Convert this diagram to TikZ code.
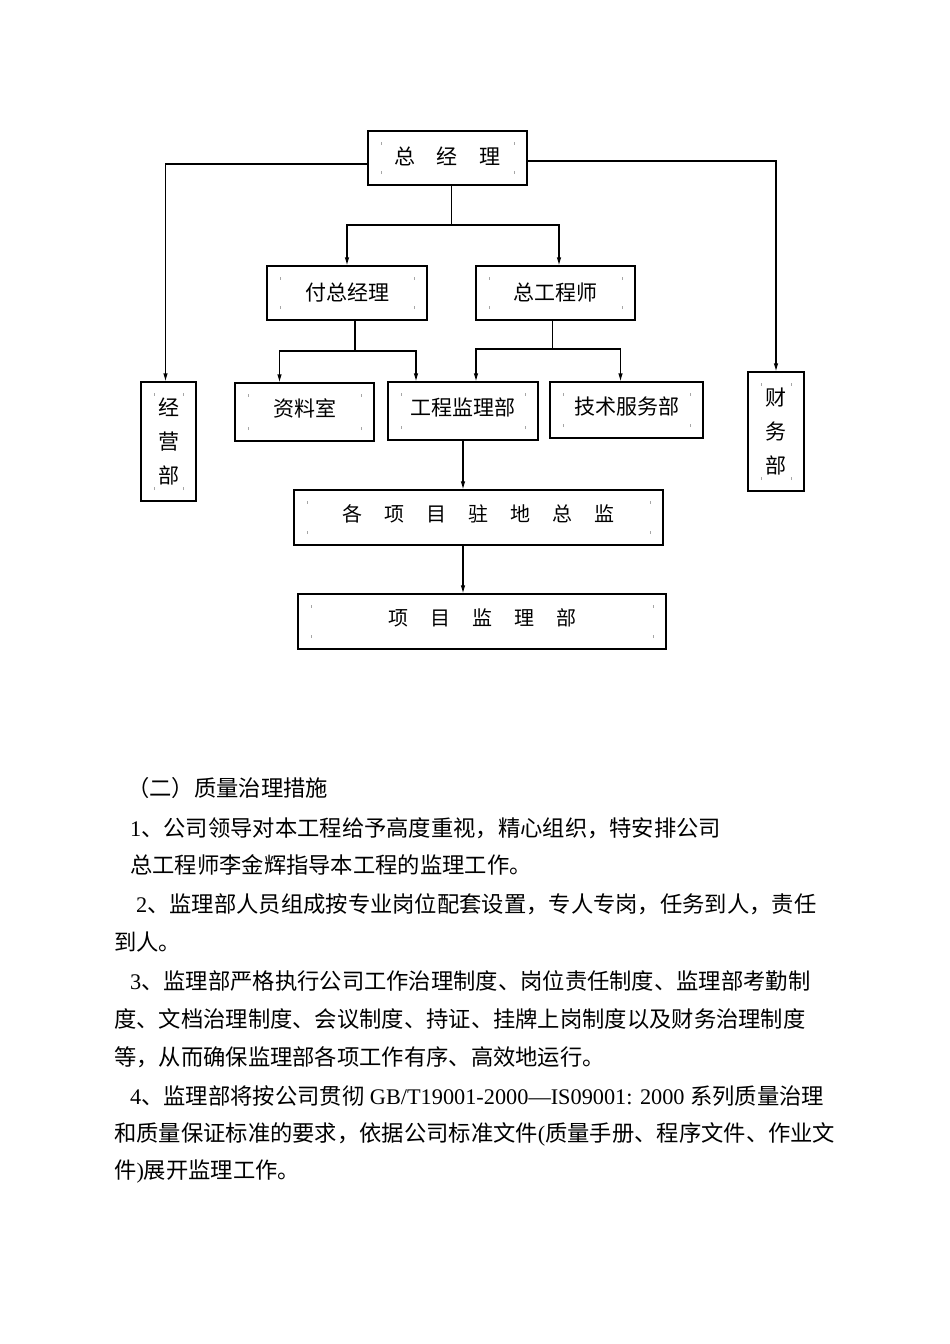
\documentclass[tikz,border=0pt]{standalone}
\usepackage{fontspec}
\setmainfont{Liberation Serif}
\newfontfamily\cjk{Noto Sans CJK SC}
\usetikzlibrary{arrows.meta}
\newcommand\lat[1]{{\rmfamily #1}}
\newcommand\up[2]{\raisebox{#1}[\height][\depth]{#2}}
\begin{document}
\begin{tikzpicture}[x=1pt,y=-1pt,
  box/.style={draw, line width=1.1pt, inner sep=0pt,
    font=\cjk\fontsize{21}{25}\selectfont,
    path picture={
      \draw[black!35,line width=0.6pt]
        ([shift={(13pt,-11pt)}]path picture bounding box.north west) -- ++(0pt,-3pt)
        ([shift={(-13pt,-11pt)}]path picture bounding box.north east) -- ++(0pt,-3pt)
        ([shift={(13pt,11pt)}]path picture bounding box.south west) -- ++(0pt,3pt)
        ([shift={(-13pt,11pt)}]path picture bounding box.south east) -- ++(0pt,3pt);}},
  conn/.style={line width=1.1pt},
  arr/.style={conn,-{Latex[length=8pt,width=4.5pt]}},
  body/.style={anchor=west, inner sep=0pt, font=\cjk\fontsize{22.3}{26}\selectfont}]
\useasboundingbox (0,0) rectangle (950,1344);

% boxes
\node[box, minimum width=159pt, minimum height=54pt] (gm) at (447.5,158) {\up{2pt}{总\hspace{22pt}经\hspace{22pt}理}};
\node[box, minimum width=160pt, minimum height=54pt] (vgm) at (347,293) {付总经理};
\node[box, minimum width=159pt, minimum height=54pt] (ce) at (555.5,293) {总工程师};
\node[box, minimum width=55pt, minimum height=119pt, align=center] (jy) at (168.5,441.5)
  {\rule{0pt}{10pt}经\\[9pt]营\\[9pt]部};
\node[box, minimum width=56pt, minimum height=119pt, align=center] (cw) at (776,431.5)
  {财\\[9pt]务\\[9pt]部};
\node[box, minimum width=139pt, minimum height=58pt] (zl) at (304.5,412) {\up{4pt}{资料室}};
\node[box, minimum width=150pt, minimum height=58pt] (gc) at (463,411) {\up{4pt}{工程监理部}};
\node[box, minimum width=153pt, minimum height=56pt] (js) at (626.5,410) {\up{3.5pt}{技术服务部}};
\node[box, minimum width=369pt, minimum height=55pt, font=\cjk\fontsize{20}{24}\selectfont] (zj) at (478.5,517.5)
  {\up{4pt}{各\hspace{22pt}项\hspace{22pt}目\hspace{22pt}驻\hspace{22pt}地\hspace{22pt}总\hspace{22pt}监}};
\node[box, minimum width=368pt, minimum height=55pt, font=\cjk\fontsize{20}{24}\selectfont] (xm) at (482,621.5)
  {\up{3.5pt}{项\hspace{22pt}目\hspace{22pt}监\hspace{22pt}理\hspace{22pt}部}};

% connectors
\draw[arr] ([yshift=-6pt]gm.west) -| ([xshift=-3pt]jy.north);
\draw[arr] ([yshift=-3pt]gm.east) -| (cw.north);
\coordinate (j1) at (451.5,225);
\draw[conn] ([xshift=4pt]gm.south) -- (j1);
\draw[arr] (j1) -| (vgm.north);
\draw[arr] (j1) -| ([xshift=3.5pt]ce.north);
\coordinate (j2) at (355,351);
\draw[conn] ([xshift=8pt]vgm.south) -- (j2);
\draw[arr] (j2) -| ([xshift=-25pt]zl.north);
\draw[arr] (j2) -| ([xshift=-47pt]gc.north);
\coordinate (j3) at (552.5,349);
\draw[conn] ([xshift=-3pt]ce.south) -- (j3);
\draw[arr] (j3) -| ([xshift=13pt]gc.north);
\draw[arr] (j3) -| ([xshift=-6pt]js.north);
\draw[arr] (gc.south) -- (gc.south |- zj.north);
\draw[arr] (zj.south -| gc.south) -- (xm.north -| gc.south);

% body text
\node[body] (t0) at (127,788) {（二）质量治理措施};
\node[body] (t1) at (130,828) {\lat{1}、公司领导对本工程给予高度重视，精心组织，特安排公司};
\node[body] (t2) at (130,865) {总工程师李金辉指导本工程的监理工作。};
\node[body] (t3) at (136,904) {\lat{2}、监理部人员组成按专业岗位配套设置，专人专岗，任务到人，责任};
\node[body] (t4) at (114,942) {到人。};
\node[body] (t5) at (130,981) {\lat{3}、监理部严格执行公司工作治理制度、岗位责任制度、监理部考勤制};
\node[body] (t6) at (114,1019) {度、文档治理制度、会议制度、持证、挂牌上岗制度以及财务治理制度};
\node[body] (t7) at (114,1057) {等，从而确保监理部各项工作有序、高效地运行。};
\node[body] (t8) at (130,1096) {\lat{4}、监理部将按公司贯彻\lat{ GB/T19001-2000—IS09001: 2000 }系列质量治理};
\node[body] (t9) at (114,1134) {和质量保证标准的要求，依据公司标准文件\lat{(}质量手册、程序文件、作业文};
\node[body] (t10) at (114,1172) {件\lat{)}展开监理工作。};
\end{tikzpicture}
\end{document}
